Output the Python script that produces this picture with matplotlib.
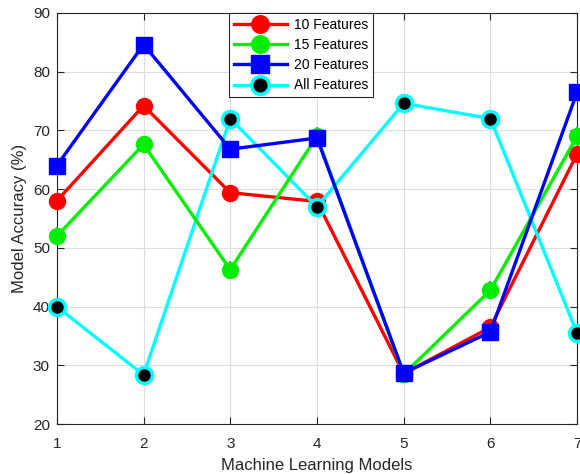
import numpy as np
import matplotlib.pyplot as plt

plt.rcParams['font.family'] = ['Liberation Sans', 'DejaVu Sans']

models = [1, 2, 3, 4, 5, 6, 7]
acc_10 = [58.0, 74.2, 59.4, 57.9, 28.6, 36.5, 66.0]
acc_15 = [52.0, 67.6, 46.3, 69.0, 28.5, 42.8, 69.0]
acc_20 = [64.0, 84.6, 66.8, 68.7, 28.7, 35.7, 76.5]
acc_all = [40.0, 28.4, 72.0, 57.0, 74.6, 72.0, 35.5]
labels = ['10 Features', '15 Features', '20 Features', 'All Features']

fig = plt.figure(figsize=(5.8, 4.74), dpi=100)
ax = fig.add_axes([0.098, 0.105, 0.897, 0.868])

lw = 2.4
ms = 11.5

h1, = ax.plot(models, acc_10, '-o', color='red', lw=lw, ms=ms, mfc='red', mec='red',
              label=labels[0], zorder=3, clip_on=False)
h2 = ax.errorbar(models, acc_15, yerr=1.5, fmt='-o', color='#00ee00', lw=lw, ms=ms,
                 mfc='#00ee00', mec='#00ee00', ecolor='#4a90c8', elinewidth=1.5,
                 label=labels[1], zorder=3)
h3 = ax.errorbar(models, acc_20, yerr=1.0, fmt='-s', color='blue', lw=lw, ms=ms,
                 mfc='blue', mec='blue', ecolor='black', elinewidth=1.0, capsize=6,
                 label=labels[2], zorder=4)
h4, = ax.plot(models, acc_all, '-o', color='cyan', lw=lw, ms=ms, mfc='black', mec='cyan',
              mew=2.5, label=labels[3], zorder=3, clip_on=False)
for h in (h2, h3):
    for art in h.get_children():
        art.set_clip_on(False)

ax.set_xlim(1, 7)
ax.set_ylim(20, 90)
ax.set_xticks(models)
ax.set_yticks(np.arange(20, 91, 10))
ax.grid(True, color='#dddddd', lw=0.8)
ax.set_axisbelow(True)
ax.tick_params(direction='in', top=True, right=True, labelsize=11, length=5,
               color='#262626', labelcolor='#262626')
ax.tick_params(axis='x', pad=9)
ax.tick_params(axis='y', pad=5)
for s in ax.spines.values():
    s.set_color('#262626')
    s.set_linewidth(0.8)

ax.set_xlabel('Machine Learning Models', fontsize=12, color='#262626', labelpad=5)
ax.set_ylabel('Model Accuracy (%)', fontsize=12, color='#262626', labelpad=4)

leg = ax.legend([h1, h2, h3, h4], labels, loc='upper left', bbox_to_anchor=(0.331, 1.0),
                fontsize=10, fancybox=False, framealpha=1, edgecolor='#262626',
                borderpad=0.35, labelspacing=0.45, handlelength=3.8,
                handletextpad=0.5, borderaxespad=0, markerscale=1.1)
leg.get_frame().set_linewidth(0.8)
leg.set_zorder(10)

fig.savefig('out.png', dpi=100)
